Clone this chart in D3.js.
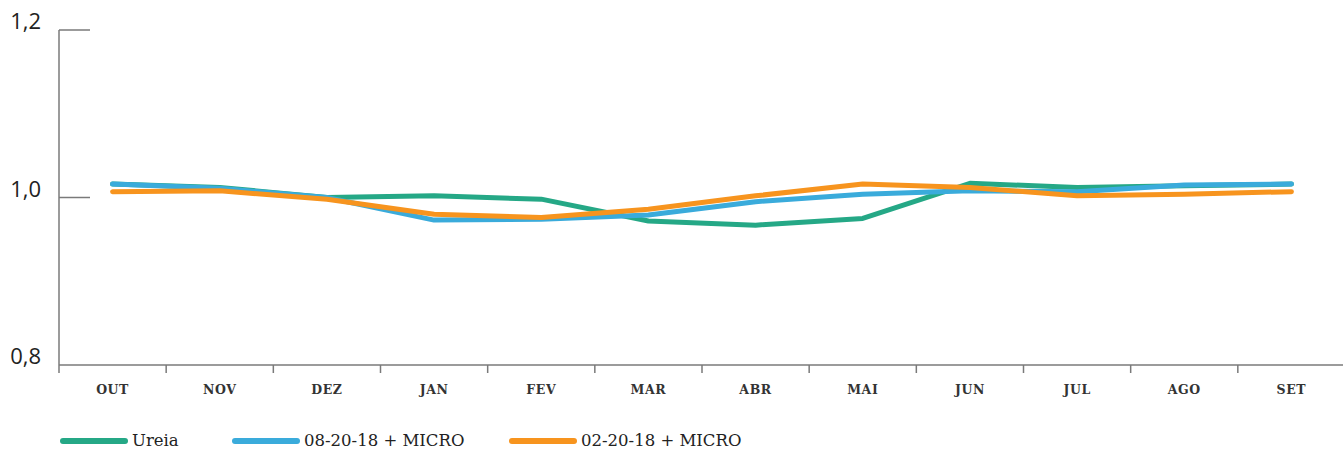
<!DOCTYPE html>
<html>
<head>
<meta charset="utf-8">
<script src="https://cdn.jsdelivr.net/npm/d3@7"></script>
<style>
  body { margin: 0; background: #fff; }
  svg { display: block; }
</style>
</head>
<body>
<svg id="chart" width="1343" height="450"></svg>
<script>
const months = ["OUT", "NOV", "DEZ", "JAN", "FEV", "MAR", "ABR", "MAI", "JUN", "JUL", "AGO", "SET"];
const ureia = [1.016, 1.012, 1.000, 1.002, 0.998, 0.972, 0.967, 0.975, 1.017, 1.012, 1.014, 1.016];
const micro082018 = [1.016, 1.011, 1.000, 0.973, 0.974, 0.979, 0.995, 1.004, 1.008, 1.007, 1.015, 1.016];
const micro022018 = [1.007, 1.008, 0.998, 0.980, 0.976, 0.986, 1.002, 1.016, 1.012, 1.002, 1.004, 1.007];
const yTicks = [0.8, 1.0, 1.2];

const series = [
  { name: "Ureia", values: ureia, color: "#25a886" },
  { name: "08-20-18 + MICRO", values: micro082018, color: "#3aabdb" },
  { name: "02-20-18 + MICRO", values: micro022018, color: "#f7941e" }
];

const svg = d3.select("#chart");
const leftEdge = 59, rightEdge = 1345, topEdge = 30, bottomEdge = 365;

const x = d3.scaleBand().domain(months).range([leftEdge, rightEdge]);
const y = d3.scaleLinear().domain([0.8, 1.2]).range([bottomEdge, topEdge]);

const axisColor = "#7a7a7a";

// y axis line and inner ticks
svg.append("line")
  .attr("x1", leftEdge).attr("x2", leftEdge)
  .attr("y1", y(1.2)).attr("y2", bottomEdge)
  .attr("stroke", axisColor).attr("stroke-width", 1.5);

svg.selectAll(".ytick").data(yTicks.filter(d => d > 0.8)).enter().append("line")
  .attr("x1", leftEdge).attr("x2", leftEdge + 31)
  .attr("y1", d => y(d)).attr("y2", d => y(d))
  .attr("stroke", axisColor).attr("stroke-width", 1.5);

svg.selectAll(".ylabel").data(yTicks).enter().append("text")
  .attr("x", 41).attr("y", d => y(d) - 1)
  .attr("text-anchor", "end")
  .attr("font-family", "'Open Sans', sans-serif")
  .attr("font-size", 22)
  .attr("fill", "#222")
  .text(d => d3.format(".1f")(d).replace(".", ","));

// x axis
const xAxis = svg.append("g")
  .attr("transform", "translate(0," + bottomEdge + ")");
xAxis.append("line")
  .attr("x1", leftEdge).attr("x2", 1343)
  .attr("stroke", axisColor).attr("stroke-width", 1.5);
xAxis.selectAll(".xtick").data(months).enter().append("line")
  .attr("x1", d => x(d)).attr("x2", d => x(d))
  .attr("y1", 0).attr("y2", 8)
  .attr("stroke", axisColor).attr("stroke-width", 1.5);
xAxis.selectAll(".xlabel").data(months).enter().append("text")
  .attr("x", d => x(d) + x.bandwidth() / 2)
  .attr("y", 29)
  .attr("text-anchor", "middle")
  .attr("font-family", "'DejaVu Serif', serif")
  .attr("font-weight", "bold")
  .attr("font-size", 12.5)
  .attr("letter-spacing", 0.6)
  .attr("fill", "#333")
  .text(d => d);

// lines
const line = d3.line()
  .x((d, i) => x(months[i]) + x.bandwidth() / 2)
  .y(d => y(d));

svg.selectAll(".series").data(series).enter().append("path")
  .attr("d", d => line(d.values))
  .attr("fill", "none")
  .attr("stroke", d => d.color)
  .attr("stroke-width", 5)
  .attr("stroke-linecap", "round")
  .attr("stroke-linejoin", "round");

// legend
const legendX = [63, 235, 512];
const legend = svg.selectAll(".legend").data(series).enter().append("g")
  .attr("transform", (d, i) => "translate(" + legendX[i] + ",441)");
legend.append("line")
  .attr("x1", 0).attr("x2", 62)
  .attr("stroke", d => d.color)
  .attr("stroke-width", 6)
  .attr("stroke-linecap", "round");
legend.append("text")
  .attr("x", 69).attr("y", 5)
  .attr("font-family", "'DejaVu Serif', serif")
  .attr("font-size", 16.5)
  .attr("fill", "#222")
  .text(d => d.name);
</script>
</body>
</html>
